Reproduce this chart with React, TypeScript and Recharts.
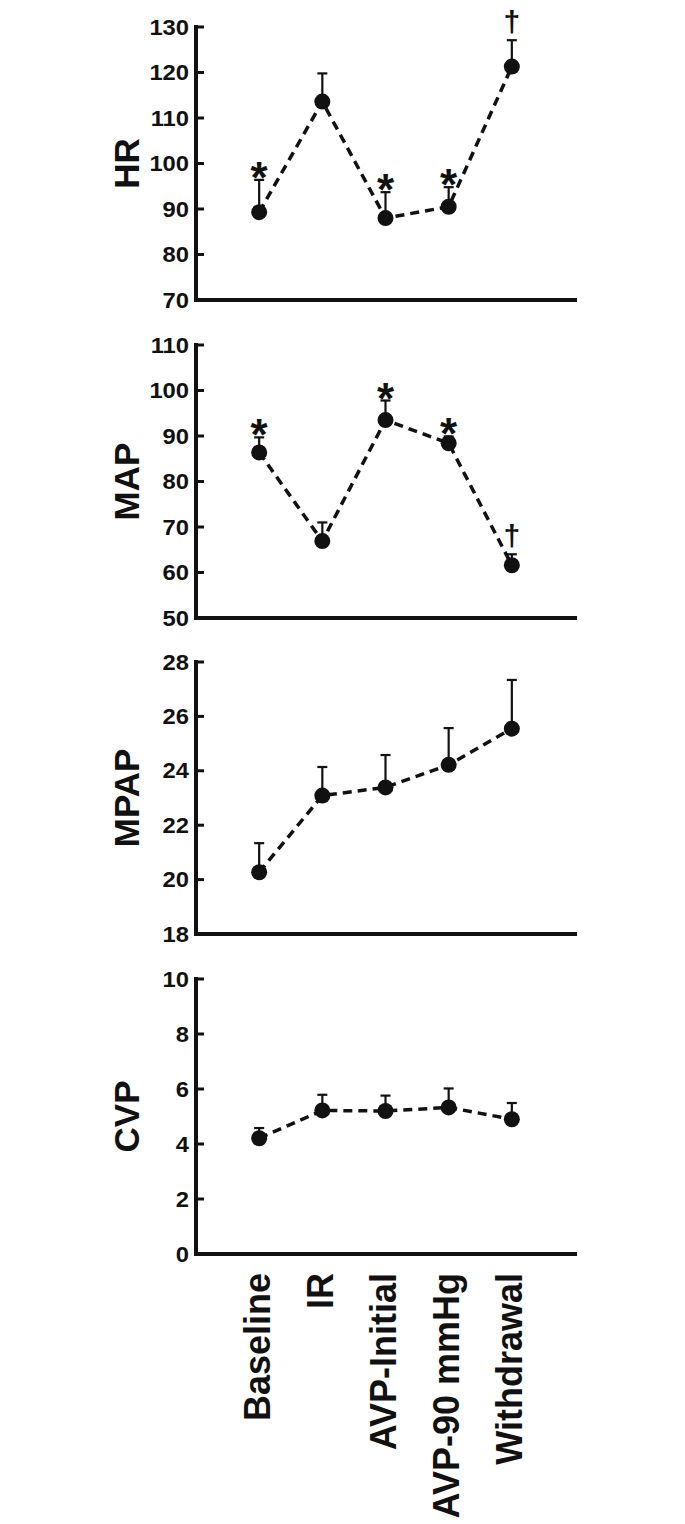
import React from 'react';
import { ComposedChart, Line, Scatter, XAxis, YAxis, ErrorBar } from 'recharts';

// Conditions on the shared x axis
const CONDITIONS = ['Baseline', 'IR', 'AVP-Initial', 'AVP-90 mmHg', 'Withdrawal'];
const POSITIONS = [1, 2, 3, 4, 5];

// Heart rate
const HR_MEAN = [89.3, 113.6, 88.0, 90.5, 121.3];
const HR_SEM = [7.1, 6.2, 5.7, 4.3, 5.8];
const HR_MARKS = ['*', '', '*', '*', '†'];
const HR_TICKS = [70, 80, 90, 100, 110, 120, 130];

// Mean arterial pressure
const MAP_MEAN = [86.4, 66.9, 93.5, 88.4, 61.6];
const MAP_SEM = [3.3, 4.1, 4.3, 1.5, 2.4];
const MAP_MARKS = ['*', '', '*', '*', '†'];
const MAP_TICKS = [50, 60, 70, 80, 90, 100, 110];

// Mean pulmonary arterial pressure
const MPAP_MEAN = [20.27, 23.09, 23.39, 24.22, 25.55];
const MPAP_SEM = [1.07, 1.05, 1.19, 1.35, 1.79];
const MPAP_TICKS = [18, 20, 22, 24, 26, 28];

// Central venous pressure
const CVP_MEAN = [4.21, 5.22, 5.2, 5.33, 4.9];
const CVP_SEM = [0.37, 0.57, 0.56, 0.69, 0.59];
const CVP_TICKS = [0, 2, 4, 6, 8, 10];

const FONT = '"Liberation Sans", Arial, Helvetica, sans-serif';
const INK = '#111';

const buildRows = (mean: number[], sem: number[], marks?: string[]) =>
  POSITIONS.map((pos, i) => ({
    pos,
    mean: mean[i],
    err: [0, sem[i]],
    top: mean[i] + sem[i],
    mark: marks ? marks[i] : '',
  }));

const YTick = (props: any) => {
  const { x, y, payload } = props;
  return (
    <g>
      <line x1={x} x2={x + 8} y1={y} y2={y} stroke={INK} strokeWidth={3} />
      <text
        transform={`translate(${x - 7},${y}) scale(1.08,1)`}
        textAnchor="end"
        dominantBaseline="central"
        fontFamily={FONT}
        fontWeight="bold"
        fontSize={22}
        fill={INK}
      >
        {payload.value}
      </text>
    </g>
  );
};

const XTick = (props: any) => {
  const { x, y, payload } = props;
  return (
    <text
      transform={`translate(${x - 2},${y + 19}) rotate(-90)`}
      textAnchor="end"
      dominantBaseline="central"
      fontFamily={FONT}
      fontWeight="bold"
      fontSize={36}
      fill={INK}
    >
      {CONDITIONS[payload.value - 1]}
    </text>
  );
};

// significance symbol drawn above the error bar top
const MarkShape = (props: any) => {
  const { cx, cy, payload } = props;
  if (!payload || !payload.mark) return <g />;
  const dagger = payload.mark === '†';
  return (
    <text
      x={cx}
      y={dagger ? cy - 8 : cy + 13}
      textAnchor="middle"
      fontFamily={FONT}
      fontWeight="bold"
      fontSize={dagger ? 30 : 44}
      fill={INK}
    >
      {payload.mark}
    </text>
  );
};

interface PanelProps {
  title: string;
  rows: any[];
  ticks: number[];
  top: number;
  height: number;
  marginTop: number;
  marginBottom: number;
  showLabels?: boolean;
}

// panels overlap a little so the lowest tick label is never cut by the svg edge
const Panel: React.FC<PanelProps> = ({ title, rows, ticks, top, height, marginTop, marginBottom, showLabels }) => (
  <div style={{ position: 'absolute', left: 0, top }}>
    <ComposedChart
      width={685}
      height={height}
      data={rows}
      margin={{ top: marginTop, right: 110, bottom: marginBottom, left: 0 }}
    >
      <XAxis
        type="number"
        dataKey="pos"
        domain={[0, 6]}
        ticks={POSITIONS}
        interval={0}
        tickLine={false}
        tickSize={0}
        tickMargin={0}
        axisLine={{ stroke: INK, strokeWidth: 4, strokeLinecap: 'square' }}
        tick={showLabels ? <XTick /> : false}
        height={showLabels ? 260 : 2}
      />
      <YAxis
        type="number"
        domain={[ticks[0], ticks[ticks.length - 1]]}
        ticks={ticks}
        interval={0}
        width={196}
        tickLine={false}
        tickSize={0}
        tickMargin={0}
        axisLine={{ stroke: INK, strokeWidth: 4, strokeLinecap: 'square' }}
        tick={<YTick />}
        label={{
          value: title,
          angle: -90,
          position: 'center',
          dx: 29,
          fontFamily: FONT,
          fontWeight: 'bold',
          fontSize: 35,
          fill: INK,
        }}
      />
      <Line
        type="linear"
        dataKey="mean"
        stroke={INK}
        strokeWidth={3.5}
        strokeDasharray="9 6"
        dot={{ r: 8, fill: INK, stroke: 'none' }}
        activeDot={false}
        isAnimationActive={false}
      >
        <ErrorBar dataKey="err" direction="y" width={5} stroke={INK} strokeWidth={2.2} />
      </Line>
      <Scatter dataKey="top" shape={MarkShape} isAnimationActive={false} />
    </ComposedChart>
  </div>
);

export default function App() {
  return (
    <div style={{ position: 'absolute', left: 0, top: 0, width: 685, height: 1524, background: '#fff' }}>
      <Panel title="HR" rows={buildRows(HR_MEAN, HR_SEM, HR_MARKS)} ticks={HR_TICKS}
        top={0} height={330} marginTop={27} marginBottom={28} />
      <Panel title="MAP" rows={buildRows(MAP_MEAN, MAP_SEM, MAP_MARKS)} ticks={MAP_TICKS}
        top={310} height={340} marginTop={35} marginBottom={30} />
      <Panel title="MPAP" rows={buildRows(MPAP_MEAN, MPAP_SEM)} ticks={MPAP_TICKS}
        top={630} height={330} marginTop={32} marginBottom={24} />
      <Panel title="CVP" rows={buildRows(CVP_MEAN, CVP_SEM)} ticks={CVP_TICKS}
        top={940} height={584} marginTop={39} marginBottom={10} showLabels />
    </div>
  );
}
